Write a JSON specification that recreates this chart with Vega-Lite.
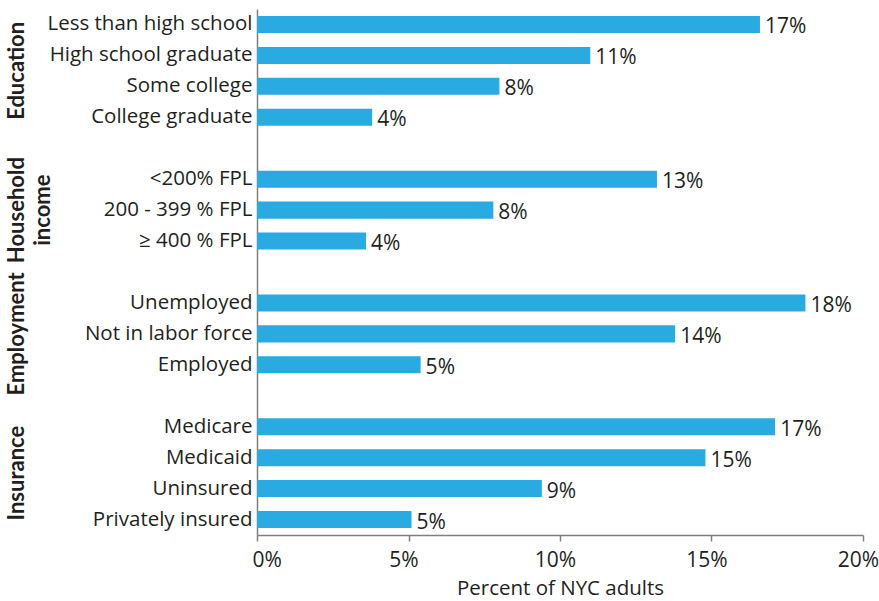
{
  "$schema": "https://vega.github.io/schema/vega-lite/v6.json",
  "background": "white",
  "padding": {"left": 0, "top": 9, "right": 0, "bottom": 0},
  "bounds": "flush",
  "spacing": 244,
  "config": {
    "view": {"stroke": null},
    "font": "Open Sans",
    "text": {"color": "#231f20"}
  },
  "datasets": {
    "rows": [
      {"category": "Less than high school", "share": 0.166},
      {"category": "High school graduate", "share": 0.110},
      {"category": "Some college", "share": 0.080},
      {"category": "College graduate", "share": 0.038},
      {"category": "<200% FPL", "share": 0.132},
      {"category": "200 - 399 % FPL", "share": 0.078},
      {"category": "≥ 400 % FPL", "share": 0.036},
      {"category": "Unemployed", "share": 0.181},
      {"category": "Not in labor force", "share": 0.138},
      {"category": "Employed", "share": 0.054},
      {"category": "Medicare", "share": 0.171},
      {"category": "Medicaid", "share": 0.148},
      {"category": "Uninsured", "share": 0.094},
      {"category": "Privately insured", "share": 0.051}
    ]
  },
  "hconcat": [
    {
      "width": 13,
      "height": 526,
      "layer": [
        {
          "data": {"values": [
            {"group": "Education", "at": "High school graduate"},
            {"group": "Insurance", "at": "Medicaid"}
          ]},
          "mark": {"type": "text", "angle": 270, "align": "center", "baseline": "top", "fontWeight": "bold", "fontSize": 22, "font": "Lato", "color": "#231f20"},
          "encoding": {
            "y": {
              "field": "at",
              "type": "nominal",
              "bandPosition": 1,
              "scale": {
                "type": "band",
                "domain": ["Less than high school", "High school graduate", "Some college", "College graduate", " ", "<200% FPL", "200 - 399 % FPL", "≥ 400 % FPL", "  ", "Unemployed", "Not in labor force", "Employed", "   ", "Medicare", "Medicaid", "Uninsured", "Privately insured"],
                "paddingInner": 0,
                "paddingOuter": 0
              },
              "axis": null
            },
            "text": {"field": "group", "type": "nominal"}
          }
        },
        {
          "data": {"values": [
            {"group": "Household income", "at": "200 - 399 % FPL"},
            {"group": "Employment", "at": "Not in labor force"}
          ]},
          "mark": {"type": "text", "angle": 270, "align": "center", "baseline": "top", "fontWeight": "bold", "fontSize": 22, "font": "Lato", "lineBreak": " ", "lineHeight": 26, "color": "#231f20"},
          "encoding": {
            "y": {
              "field": "at",
              "type": "nominal",
              "bandPosition": 0.5,
              "scale": {
                "type": "band",
                "domain": ["Less than high school", "High school graduate", "Some college", "College graduate", " ", "<200% FPL", "200 - 399 % FPL", "≥ 400 % FPL", "  ", "Unemployed", "Not in labor force", "Employed", "   ", "Medicare", "Medicaid", "Uninsured", "Privately insured"],
                "paddingInner": 0,
                "paddingOuter": 0
              },
              "axis": null
            },
            "text": {"field": "group", "type": "nominal"}
          }
        }
      ]
    },
    {
      "width": 606,
      "height": 526,
      "data": {"name": "rows"},
      "encoding": {
        "y": {
          "field": "category",
          "type": "nominal",
          "sort": null,
          "scale": {
            "domain": ["Less than high school", "High school graduate", "Some college", "College graduate", " ", "<200% FPL", "200 - 399 % FPL", "≥ 400 % FPL", "  ", "Unemployed", "Not in labor force", "Employed", "   ", "Medicare", "Medicaid", "Uninsured", "Privately insured"],
            "paddingInner": 0.45,
            "paddingOuter": 0.225
          },
          "axis": {
            "title": null,
            "ticks": false,
            "tickSize": 0,
            "labelPadding": 5,
            "labelLimit": 400,
            "labelFontSize": 20.5,
            "labelColor": "#231f20",
            "labelFont": "Open Sans",
            "domainColor": "#7f7f7f",
            "domainWidth": 1.5,
            "grid": false
          }
        },
        "x": {
          "field": "share",
          "type": "quantitative",
          "scale": {"domain": [0, 0.2], "nice": false},
          "axis": {
            "title": "Percent of NYC adults",
            "format": ".0%",
            "values": [0, 0.05, 0.1, 0.15, 0.2],
            "grid": false,
            "ticks": true,
            "tickSize": 6,
            "tickColor": "#7f7f7f",
            "tickWidth": 1.5,
            "domainColor": "#7f7f7f",
            "domainWidth": 1.5,
            "labelFlush": false,
            "labelOffset": -5,
            "labelAlign": {"condition": {"test": "datum.value == 0", "value": "left"}, "value": "center"},
            "labelPadding": 8,
            "labelFontSize": 21,
            "labelColor": "#231f20",
            "labelFont": "Open Sans",
            "titleFontSize": 20.5,
            "titleFontWeight": "normal",
            "titleColor": "#231f20",
            "titleFont": "Open Sans",
            "titlePadding": 8
          }
        }
      },
      "layer": [
        {"mark": {"type": "bar", "color": "#29abe2"}},
        {
          "mark": {"type": "text", "align": "left", "baseline": "middle", "dx": 5, "dy": 3, "fontSize": 21, "color": "#231f20"},
          "encoding": {"text": {"field": "share", "type": "quantitative", "format": ".0%"}}
        }
      ]
    }
  ]
}
